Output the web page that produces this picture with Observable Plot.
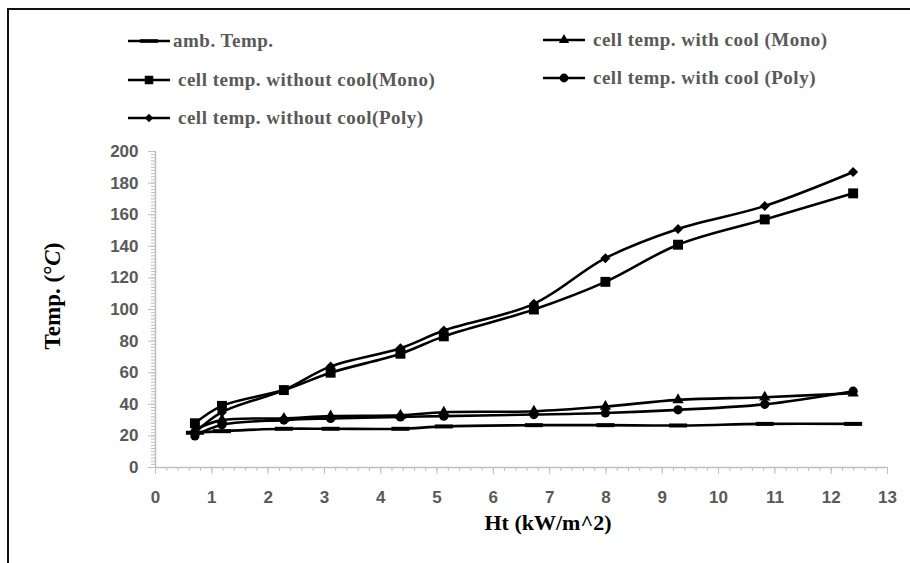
<!DOCTYPE html>
<html><head><meta charset="utf-8">
<script src="https://cdn.jsdelivr.net/npm/d3@7"></script>
<script src="https://cdn.jsdelivr.net/npm/@observablehq/plot@0.6"></script>
<style>
body{margin:0;background:#fff;}
#wrap{position:relative;width:910px;height:563px;overflow:hidden;background:#fff;}
#frame{position:absolute;left:7px;top:8px;width:1000px;height:1000px;border-left:2px solid #111;border-top:2px solid #111;pointer-events:none;}
#chart{position:absolute;left:0;top:0;}
.leg{position:absolute;height:22px;display:flex;align-items:center;white-space:nowrap;}
.leg span{font-family:"Liberation Serif",serif;font-weight:bold;font-size:19px;letter-spacing:0.5px;color:#595959;}
.ttl{position:absolute;font-family:"Liberation Serif",serif;font-weight:bold;color:#000;white-space:nowrap;transform:translate(-50%,-50%);}
</style></head><body>
<div id="wrap"><div id="chart"></div><div id="frame"></div></div>
<script>
// ---- data ----
const ht = [0.7, 1.18, 2.28, 3.11, 4.35, 5.12, 6.72, 7.99, 9.28, 10.82, 12.39];
const ambTemp        = [22, 23, 24.5, 24.5, 24.5, 26, 26.8, 26.8, 26.6, 27.6, 27.6];
const withCoolMono   = [24, 30, 31, 32.5, 33, 35, 35.6, 38.6, 42.8, 44.5, 47];
const withoutCoolMono= [28, 39, 49, 60, 72, 83, 100, 117.5, 141, 157, 173.5];
const withCoolPoly   = [20, 27, 30, 31, 32, 32.5, 33.5, 34.5, 36.5, 40, 48.3];
const withoutCoolPoly= [22, 35, 49, 64, 75.5, 86.7, 103.6, 132.5, 151, 165.5, 187];
const seriesNames = ["amb. Temp.", "cell temp. with cool (Mono)", "cell temp. without cool(Mono)", "cell temp. with cool (Poly)", "cell temp. without cool(Poly)"];
const seriesValues = [ambTemp, withCoolMono, withoutCoolMono, withCoolPoly, withoutCoolPoly];
const xTicks = [0,1,2,3,4,5,6,7,8,9,10,11,12,13];
const yTicks = [0,20,40,60,80,100,120,140,160,180,200];
const xTitle = "Ht (kW/m^2)";

// ---- styling ----
const dash = {draw(ctx){ ctx.rect(-9, -2, 18, 4); }};
const symbols = [dash, d3.symbolTriangle, d3.symbolSquare, d3.symbolCircle, d3.symbolDiamond2];
const radii = [5, 4.2, 5.6, 4.6, 4.5];
const W = 910, H = 563, mL = 155, mR = 23, mT = 151, mB = 96;
const axisGrey = "#bfbfbf";
const labelGrey = "#595959";

const rows = seriesNames.map((name, i) => ht.map((x, j) => ({series: name, x, y: seriesValues[i][j]})));

const xMinor = d3.range(0, 66).map(i => i * 0.2);
const yMinor = d3.range(0, 101).map(i => i * 2);

const marks = [
  Plot.axisX(xMinor, {tickSize: 4, stroke: axisGrey, fill: "none", label: null}),
  Plot.axisX(xTicks, {tickSize: 7, stroke: axisGrey, fill: "none", label: null}),
  Plot.axisY(yMinor, {tickSize: 4, stroke: axisGrey, fill: "none", label: null}),
  Plot.axisY(yTicks, {tickSize: 7, stroke: axisGrey, fill: "none", label: null}),
  Plot.axisX(xTicks, {tickSize: 0, tickPadding: 23, fill: labelGrey, fontSize: 17, fontWeight: "bold", fontFamily: "Liberation Sans", label: null}),
  Plot.axisY(yTicks, {tickSize: 0, tickPadding: 17, fill: labelGrey, fontSize: 17, fontWeight: "bold", fontFamily: "Liberation Sans", label: null}),
  Plot.ruleX([0], {stroke: axisGrey, strokeWidth: 1.5}),
  Plot.ruleY([0], {stroke: axisGrey, strokeWidth: 1.5})
];
rows.forEach((r, i) => {
  marks.push(Plot.line(r, {x: "x", y: "y", stroke: "#000", strokeWidth: 2.6, curve: "catmull-rom"}));
  marks.push(Plot.dot(r, {x: "x", y: "y", symbol: symbols[i], r: radii[i], fill: "#000", stroke: "none"}));
});

const chart = Plot.plot({
  width: W, height: H,
  marginLeft: mL, marginRight: mR, marginTop: mT, marginBottom: mB,
  x: {domain: [0, 13], label: null},
  y: {domain: [0, 200], label: null},
  style: {background: "transparent", overflow: "visible"},
  marks
});
document.getElementById("chart").appendChild(chart);

// ---- legend ----
const wrap = document.getElementById("wrap");
const legPos = [
  {sx: 128, tx: 173, cy: 41},
  {sx: 543, tx: 593, cy: 40},
  {sx: 128, tx: 178, cy: 80},
  {sx: 543, tx: 593, cy: 78},
  {sx: 128, tx: 178, cy: 118}
];
const legR = [5, 3.8, 4.8, 4.4, 3.8];
seriesNames.forEach((name, i) => {
  const p = legPos[i];
  const svg = d3.create("svg").attr("width", 42).attr("height", 16)
    .style("position", "absolute").style("left", p.sx + "px").style("top", (p.cy - 8) + "px");
  svg.append("line").attr("x1", 0).attr("x2", 42).attr("y1", 8).attr("y2", 8).attr("stroke", "#000").attr("stroke-width", 2.6);
  const sym = i === 0 ? {draw(ctx){ ctx.rect(-9, -1.8, 18, 3.6); }} : symbols[i];
  svg.append("path").attr("transform", "translate(21,8)").attr("fill", "#000")
    .attr("d", d3.symbol(sym, legR[i] * legR[i] * Math.PI)());
  wrap.appendChild(svg.node());
  const d = document.createElement("div");
  d.className = "leg";
  d.style.left = p.tx + "px";
  d.style.top = (p.cy - 11) + "px";
  d.innerHTML = "<span></span>";
  d.firstChild.textContent = name;
  wrap.appendChild(d);
});

// ---- axis titles ----
const yt = document.createElement("div");
yt.className = "ttl";
yt.style.left = "53px"; yt.style.top = "296px"; yt.style.fontSize = "23px";
yt.style.transform = "translate(-50%,-50%) rotate(-90deg)";
yt.innerHTML = "Temp. (°<i>C</i>)";
wrap.appendChild(yt);
const xt = document.createElement("div");
xt.className = "ttl";
xt.style.left = "548px"; xt.style.top = "523px"; xt.style.fontSize = "22px";
xt.textContent = xTitle;
wrap.appendChild(xt);
</script>
</body></html>
